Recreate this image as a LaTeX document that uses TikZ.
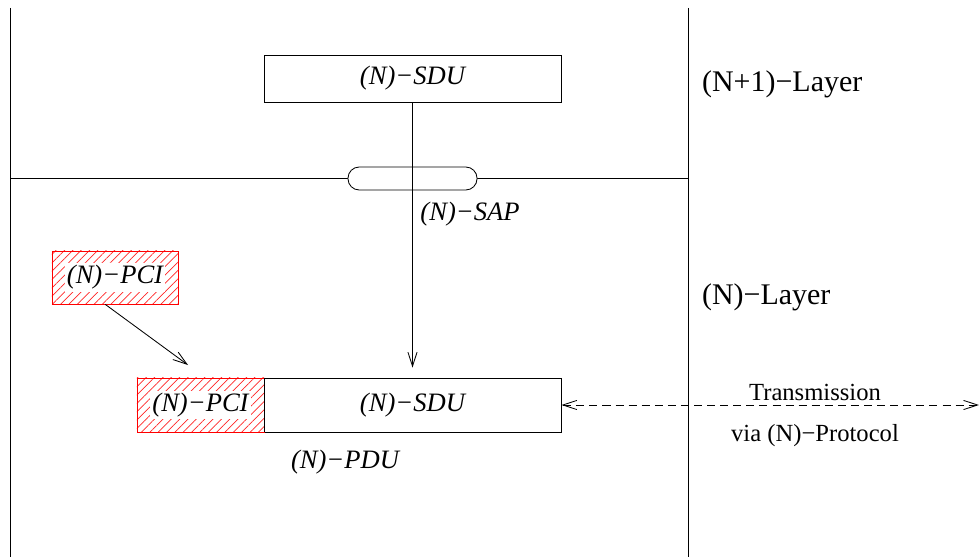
\documentclass[tikz,border=0pt]{standalone}
\usepackage{fontspec}
\setmainfont{Liberation Serif}
\usepackage{tikz}
\usetikzlibrary{arrows.meta,positioning,patterns.meta}

\begin{document}
\begin{tikzpicture}[x=0.025cm,y=-0.025cm,line width=0.6pt]
	\tikzset{box/.style={draw,rectangle,inner sep=0pt,minimum width=7.425cm},
		pcibox/.style={draw=red,rectangle,inner sep=0pt,pattern={Lines[angle=45,distance=4.2pt,line width=0.5pt]},pattern color=red!85},
		pcitxt/.style={fill=white,inner sep=1.5pt,minimum height=0.72cm,font=\fontsize{18.9}{22}\selectfont\itshape},
		lbl/.style={font=\fontsize{18.9}{22}\selectfont\itshape},
		layer/.style={anchor=west,font=\fontsize{21.3}{25}\selectfont},
		trans/.style={font=\fontsize{17.5}{21}\selectfont},
		tip/.style={-{Straight Barb[length=10pt,width=6.5pt]}}}
	\useasboundingbox (0,0) rectangle (979,557);
	% layer borders
	\draw (10,8) -- (10,557);
	\draw (688,8) -- (688,557);
	\draw (10,178) -- (688,178);
	% (N+1)-layer
	\node[box,minimum height=1.175cm,lbl] (sdu) at (412.5,78.5) {(N)−SDU};
	\node[layer] (upper) at (697,84) {(N+1)−Layer};
	\node[draw,fill=white,rounded corners=0.28cm,minimum width=3.225cm,minimum height=0.575cm,inner sep=0pt] (sap) at (412.5,178.5) {};
	\node[lbl] (saplbl) at (470,214) {(N)−SAP};
	% (N)-layer
	\node[layer] (lower) at (697,297) {(N)−Layer};
	\node[pcibox,minimum width=3.15cm,minimum height=1.325cm] (pci) at (115,277.5) {};
	\node[pcitxt] at (pci) {(N)−PCI};
	\node[box,minimum height=1.35cm,lbl] (sdu2) at (412.5,405) {(N)−SDU};
	\node[pcibox,minimum width=3.175cm,minimum height=1.35cm] (pci2) at (200.5,405) {};
	\node[pcitxt] at (pci2) {(N)−PCI};
	\draw (pci2.north east) -- (pci2.south east);
	\node[lbl] (pdu) at (345,462) {(N)−PDU};
	\coordinate (pcitip) at (188,365);
	\coordinate (peer) at (979,405);
	\node[trans] (t1) at (815,392) {Transmission};
	\node[trans] (t2) at (815,436) {via (N)−Protocol};
	\path[tip]
		(sdu) edge[shorten >=0.25cm] (sdu.south |- sdu2.north)
		(pci.-110.7) edge (pcitip);
	\draw[dash pattern=on 5.7pt off 3.6pt,{Straight Barb[length=10pt,width=6.5pt]}-{Straight Barb[length=10pt,width=6.5pt]}] (sdu2.east) -- (peer);
\end{tikzpicture}
\end{document}
